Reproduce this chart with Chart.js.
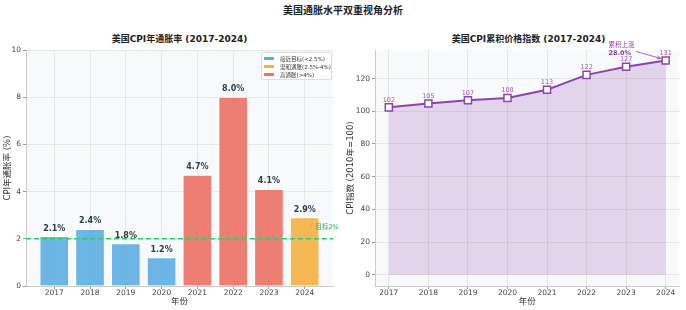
<!DOCTYPE html>
<html lang="zh">
<head>
<meta charset="UTF-8">
<title>美国通胀水平双重视角分析</title>
<script src="https://cdn.jsdelivr.net/npm/chart.js@4.4.0/dist/chart.umd.min.js"></script>
<style>
  body { margin: 0; background: #fff; width: 686px; height: 310px; position: relative; overflow: hidden;
         font-family: 'DejaVu Sans', 'Noto Sans CJK SC', sans-serif; color: #222; }
  .title { position: absolute; left: 0; top: 2px; width: 686px; text-align: center; font-size: 10px; font-weight: bold; }
  .sub { position: absolute; top: 32px; width: 307px; text-align: center; font-size: 9px; font-weight: bold; }
  .box { position: absolute; top: 28px; }
  .legend { position: absolute; left: 261px; top: 52px; width: 69px; height: 26px; border: 1px solid #ddd;
            background: rgba(255,255,255,0.85); border-radius: 2px; font-size: 5.5px; color: #333; }
  .legend div { position: absolute; left: 18px; }
  .legend span { position: absolute; left: -16px; top: 2px; width: 10px; height: 3px; }
</style>
</head>
<body>
<div class="title">美国通胀水平双重视角分析</div>
<div class="sub" style="left:26px">美国CPI年通胀率 (2017-2024)</div>
<div class="sub" style="left:375px">美国CPI累积价格指数 (2017-2024)</div>
<canvas id="rate" class="box" style="left:0" width="343" height="282"></canvas>
<canvas id="index" class="box" style="left:343px" width="343" height="282"></canvas>
<div class="legend">
  <div style="top:2px"><span style="background:#5dade2"></span>接近目标(&lt;2.5%)</div>
  <div style="top:10px"><span style="background:#f5b041"></span>温和通胀(2.5%-4%)</div>
  <div style="top:18px"><span style="background:#ec7063"></span>高通胀(&gt;4%)</div>
</div>

<script>
  // data
  const years = ['2017', '2018', '2019', '2020', '2021', '2022', '2023', '2024'];
  const inflation = [2.1, 2.4, 1.8, 1.2, 4.7, 8.0, 4.1, 2.9];
  const cpiIndex = [102.4, 104.8, 106.7, 108.1, 113.2, 122.3, 127.3, 131.1];
  const target = 2;

  const FONT = "'DejaVu Sans', 'Noto Sans CJK SC', sans-serif";
  const barColor = v => v < 2.5 ? 'rgba(93,173,226,0.9)' : (v <= 4 ? 'rgba(245,176,65,0.9)' : 'rgba(236,112,99,0.9)');

  // plot background
  const plotBg = {
    id: 'plotBg',
    beforeDraw(chart) {
      const a = chart.chartArea, c = chart.ctx;
      c.save();
      c.fillStyle = '#f8f9fa';
      c.fillRect(a.left, a.top, a.right - a.left, a.bottom - a.top);
      c.restore();
    }
  };

  const axisX = (min, max) => ({
    type: 'linear', min: min, max: max, offset: false,
    afterFit: s => { s.height = 24; },
    ticks: { stepSize: 1, includeBounds: false, maxRotation: 0, padding: 0, color: '#444',
             font: { family: FONT, size: 7.5 },
             callback: v => Number.isInteger(v) ? years[v] : '' },
    grid: { offset: false, color: 'rgba(190,190,190,0.3)', tickLength: 3, tickColor: '#999' },
    border: { color: '#ccc' },
    title: { display: true, text: '年份', color: '#333', font: { family: FONT, size: 8.5 }, padding: { top: 2, bottom: 3 } }
  });

  const axisY = (min, max, step, width, label) => ({
    min: min, max: max,
    afterFit: s => { s.width = width; },
    ticks: { stepSize: step, includeBounds: false, padding: 2, color: '#444', font: { family: FONT, size: 7.5 } },
    grid: { color: 'rgba(190,190,190,0.3)', tickLength: 3, tickColor: '#999' },
    border: { color: '#ccc' },
    title: { display: true, text: label, color: '#333', font: { family: FONT, size: 8.5 }, padding: { top: 3, bottom: 3 } }
  });

  // bar labels + target line
  const rateMarks = {
    id: 'rateMarks',
    afterDatasetsDraw(chart) {
      const c = chart.ctx, xs = chart.scales.x, ys = chart.scales.y, a = chart.chartArea;
      c.save();
      c.font = 'bold 8px ' + FONT;
      c.fillStyle = '#2c3e50';
      c.textAlign = 'center';
      c.textBaseline = 'middle';
      inflation.forEach((v, i) => c.fillText(v.toFixed(1) + '%', xs.getPixelForValue(i), ys.getPixelForValue(v) - 8));
      const ty = ys.getPixelForValue(target);
      c.strokeStyle = '#2ecc71';
      c.lineWidth = 1.5;
      c.setLineDash([5, 3]);
      c.beginPath();
      c.moveTo(a.left, ty);
      c.lineTo(a.right, ty);
      c.stroke();
      c.font = '6.5px ' + FONT;
      c.fillStyle = '#27ae60';
      c.textAlign = 'left';
      c.fillText('目标' + target + '%', xs.getPixelForValue(7.3), ty - 11);
      c.restore();
    }
  };

  // point labels + annotation
  const indexMarks = {
    id: 'indexMarks',
    afterDraw(chart) {
      const c = chart.ctx, xs = chart.scales.x, ys = chart.scales.y;
      c.save();
      c.font = '6.5px ' + FONT;
      c.fillStyle = '#9b59b6';
      c.textAlign = 'center';
      c.textBaseline = 'middle';
      cpiIndex.forEach((v, i) => c.fillText(Math.round(v), xs.getPixelForValue(i), ys.getPixelForValue(v) - 7.5));
      const last = cpiIndex.length - 1;
      const px = xs.getPixelForValue(last), py = ys.getPixelForValue(cpiIndex[last]);
      const rise = ((cpiIndex[last] / cpiIndex[0] - 1) * 100).toFixed(1);
      c.textAlign = 'left';
      c.fillStyle = '#8e44ad';
      c.font = '6.5px ' + FONT;
      c.fillText('累积上涨', 265.5, 17);
      c.font = 'bold 6.5px ' + FONT;
      c.fillText(rise + '%', 265.5, 25);
      c.strokeStyle = '#8e44ad';
      c.lineWidth = 0.8;
      const x0 = 293, y0 = 23.5, x1 = px - 5, y1 = py - 2;
      c.beginPath();
      c.moveTo(x0, y0);
      c.lineTo(x1, y1);
      c.stroke();
      const ang = Math.atan2(y1 - y0, x1 - x0);
      c.beginPath();
      c.moveTo(x1 - 4 * Math.cos(ang - 0.4), y1 - 4 * Math.sin(ang - 0.4));
      c.lineTo(x1, y1);
      c.lineTo(x1 - 4 * Math.cos(ang + 0.4), y1 - 4 * Math.sin(ang + 0.4));
      c.stroke();
      c.restore();
    }
  };

  // left chart
  new Chart(document.getElementById('rate'), {
    type: 'bar',
    data: {
      datasets: [{
        data: inflation.map((v, i) => ({ x: i, y: v })),
        backgroundColor: inflation.map(barColor),
        borderColor: '#ffffff',
        borderWidth: 1,
        barThickness: 29
      }]
    },
    options: {
      responsive: false, animation: false, devicePixelRatio: 1,
      layout: { padding: { top: 22, right: 10, left: 0, bottom: 0 } },
      plugins: { legend: { display: false }, tooltip: { enabled: false } },
      scales: {
        x: axisX(-0.79, 7.79),
        y: axisY(0, 10, 2, 26, 'CPI年通胀率 (%)')
      }
    },
    plugins: [plotBg, rateMarks]
  });

  // right chart
  new Chart(document.getElementById('index'), {
    type: 'line',
    data: {
      datasets: [{
        data: cpiIndex.map((v, i) => ({ x: i, y: v })),
        borderColor: '#8e44ad',
        borderWidth: 2,
        backgroundColor: 'rgba(142,68,173,0.2)',
        fill: { value: 0 },
        tension: 0,
        pointStyle: 'rect',
        pointRadius: 5,
        pointBackgroundColor: '#ffffff',
        pointBorderColor: '#8e44ad',
        pointBorderWidth: 1.5
      }]
    },
    options: {
      responsive: false, animation: false, devicePixelRatio: 1,
      layout: { padding: { top: 22, right: 4, left: 0, bottom: 0 } },
      plugins: { legend: { display: false }, tooltip: { enabled: false } },
      scales: {
        x: axisX(-0.35, 7.35),
        y: axisY(-6.9, 137.5, 20, 32, 'CPI指数 (2010年=100)')
      }
    },
    plugins: [plotBg, indexMarks]
  });
</script>
</body>
</html>
